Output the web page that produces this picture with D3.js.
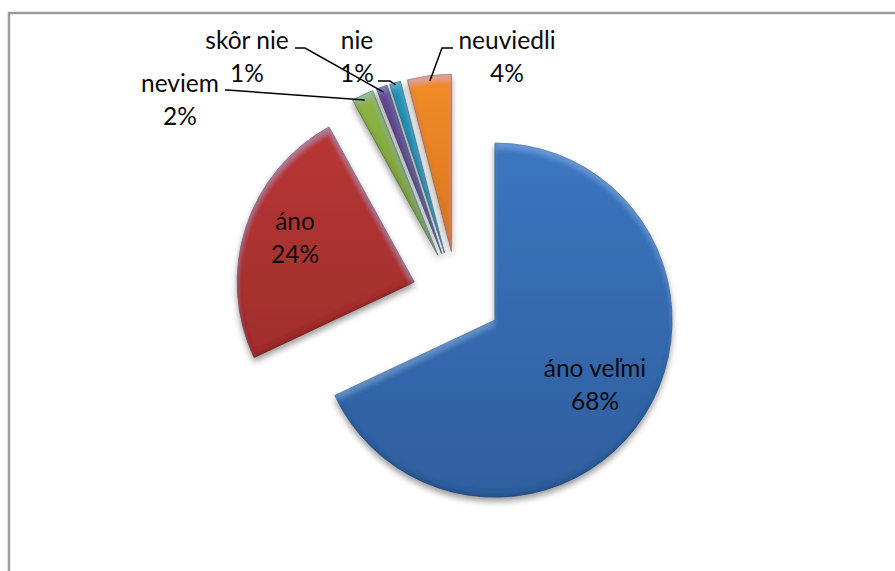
<!DOCTYPE html>
<html>
<head>
<meta charset="utf-8">
<script src="https://cdn.jsdelivr.net/npm/d3@7"></script>
<style>
  html, body { margin: 0; padding: 0; background: #fff; }
  svg { display: block; }
  text { font-family: Lato, "Open Sans", sans-serif; font-size: 24.5px; fill: #0a0a0a; }
</style>
</head>
<body>
<div id="vis"></div>
<script>
var categories = ['áno veľmi', 'áno', 'neviem', 'skôr nie', 'nie', 'neuviedli'];
var percents = [68, 24, 2, 1, 1, 4];

var topColors = ['#3b76c0', '#b83634', '#8fb545', '#684896', '#2596b8', '#f28c28'];
var bottomColors = ['#2f5e9e', '#a02e2c', '#76993a', '#55407f', '#217f9c', '#d8761f'];

// label anchors, [x, y of first line]
var labelX = [595, 295, 180, 247, 357, 507];
var labelY = [377, 230, 92, 49, 49, 49];

// leader elbows, null when the label sits on the slice
var leaderStart = [null, null, [225, 90], [295, 48], [378, 81], [453, 48]];
var leaderElbow = [null, null, [227, 90], [305, 48], [390, 81], [442, 48]];
var leaderEnd = [null, null, 0.97, 0.97, 0.99, 0.97];

var width = 895,
    height = 571,
    cx = 457,
    cy = 296,
    radius = 177,
    explode = 45;

var svg = d3.select('#vis')
  .append('svg')
    .attr('width', width)
    .attr('height', height);

var defs = svg.append('defs');

// inner edge light on top, inner edge dark below, soft shadow under the slice
var filter = defs.append('filter')
  .attr('id', 'bevel')
  .attr('x', '-15%').attr('y', '-15%')
  .attr('width', '130%').attr('height', '130%');

filter.append('feOffset').attr('in', 'SourceAlpha').attr('dy', 6).attr('result', 'downA');
filter.append('feGaussianBlur').attr('in', 'downA').attr('stdDeviation', 2.5).attr('result', 'downB');
filter.append('feComposite').attr('in', 'SourceAlpha').attr('in2', 'downB').attr('operator', 'out').attr('result', 'topEdge');
filter.append('feFlood').attr('flood-color', '#9fd0ff').attr('flood-opacity', 0.28).attr('result', 'white');
filter.append('feComposite').attr('in', 'white').attr('in2', 'topEdge').attr('operator', 'in').attr('result', 'lightEdge');

filter.append('feOffset').attr('in', 'SourceAlpha').attr('dy', -4).attr('result', 'upA');
filter.append('feGaussianBlur').attr('in', 'upA').attr('stdDeviation', 2).attr('result', 'upB');
filter.append('feComposite').attr('in', 'SourceAlpha').attr('in2', 'upB').attr('operator', 'out').attr('result', 'lowEdge');
filter.append('feFlood').attr('flood-color', '#000000').attr('flood-opacity', 0.22).attr('result', 'black');
filter.append('feComposite').attr('in', 'black').attr('in2', 'lowEdge').attr('operator', 'in').attr('result', 'darkEdge');

filter.append('feOffset').attr('in', 'SourceAlpha').attr('dy', 4).attr('result', 'off');
filter.append('feGaussianBlur').attr('in', 'off').attr('stdDeviation', 3).attr('result', 'shadowBlur');
filter.append('feComponentTransfer').attr('in', 'shadowBlur').attr('result', 'shadow')
  .append('feFuncA').attr('type', 'linear').attr('slope', 0.4);

var merge = filter.append('feMerge');
merge.append('feMergeNode').attr('in', 'shadow');
merge.append('feMergeNode').attr('in', 'SourceGraphic');
merge.append('feMergeNode').attr('in', 'lightEdge');
merge.append('feMergeNode').attr('in', 'darkEdge');

categories.forEach(function(c, i) {
  var g = defs.append('linearGradient')
    .attr('id', 'grad' + i)
    .attr('gradientUnits', 'objectBoundingBox')
    .attr('x1', 0).attr('y1', 0).attr('x2', 0).attr('y2', 1);
  g.append('stop').attr('offset', '0%').attr('stop-color', topColors[i]);
  g.append('stop').attr('offset', '100%').attr('stop-color', bottomColors[i]);
});

// frame runs off the right and bottom of the picture
svg.append('path')
  .attr('d', d3.line()([[9, height], [9, 13], [width, 13]]))
  .attr('fill', 'none')
  .attr('stroke', '#9a9a9a')
  .attr('stroke-width', 2.5);

var pie = d3.pie().sort(null).value(function(d) { return d; });
var arcs = pie(percents);
var arc = d3.arc().innerRadius(0).outerRadius(radius);

function sliceOffset(d) {
  var mid = (d.startAngle + d.endAngle) / 2;
  return [Math.sin(mid) * explode, -Math.cos(mid) * explode];
}

var slices = svg.append('g')
  .attr('transform', 'translate(' + cx + ',' + cy + ')')
  .selectAll('path')
  .data(arcs)
  .enter()
  .append('path')
    .attr('d', arc)
    .attr('transform', function(d) { return 'translate(' + sliceOffset(d) + ')'; })
    .attr('fill', function(d, i) { return 'url(#grad' + i + ')'; })
    .attr('stroke', function(d, i) { return d3.color(bottomColors[i]).darker(0.5); })
    .attr('stroke-width', 0.9)
    .attr('filter', 'url(#bevel)');

// leader lines end on the outer edge of their slice
var leaders = svg.append('g');
arcs.forEach(function(d, i) {
  if (!leaderStart[i]) return;
  var off = sliceOffset(d);
  var mid = (d.startAngle + d.endAngle) / 2;
  var r = radius * leaderEnd[i];
  var end = [cx + off[0] + Math.sin(mid) * r, cy + off[1] - Math.cos(mid) * r];
  leaders.append('path')
    .attr('d', d3.line()([leaderStart[i], leaderElbow[i], end]))
    .attr('fill', 'none')
    .attr('stroke', '#000')
    .attr('stroke-width', 1.5);
});

var labels = svg.append('g')
  .selectAll('text')
  .data(categories)
  .enter()
  .append('text')
    .attr('text-anchor', 'middle')
    .attr('x', function(d, i) { return labelX[i]; })
    .attr('y', function(d, i) { return labelY[i]; });

labels.append('tspan')
  .attr('x', function(d, i) { return labelX[i]; })
  .text(function(d) { return d; });

labels.append('tspan')
  .attr('x', function(d, i) { return labelX[i]; })
  .attr('dy', 33)
  .text(function(d, i) { return percents[i] + '%'; });
</script>
</body>
</html>
